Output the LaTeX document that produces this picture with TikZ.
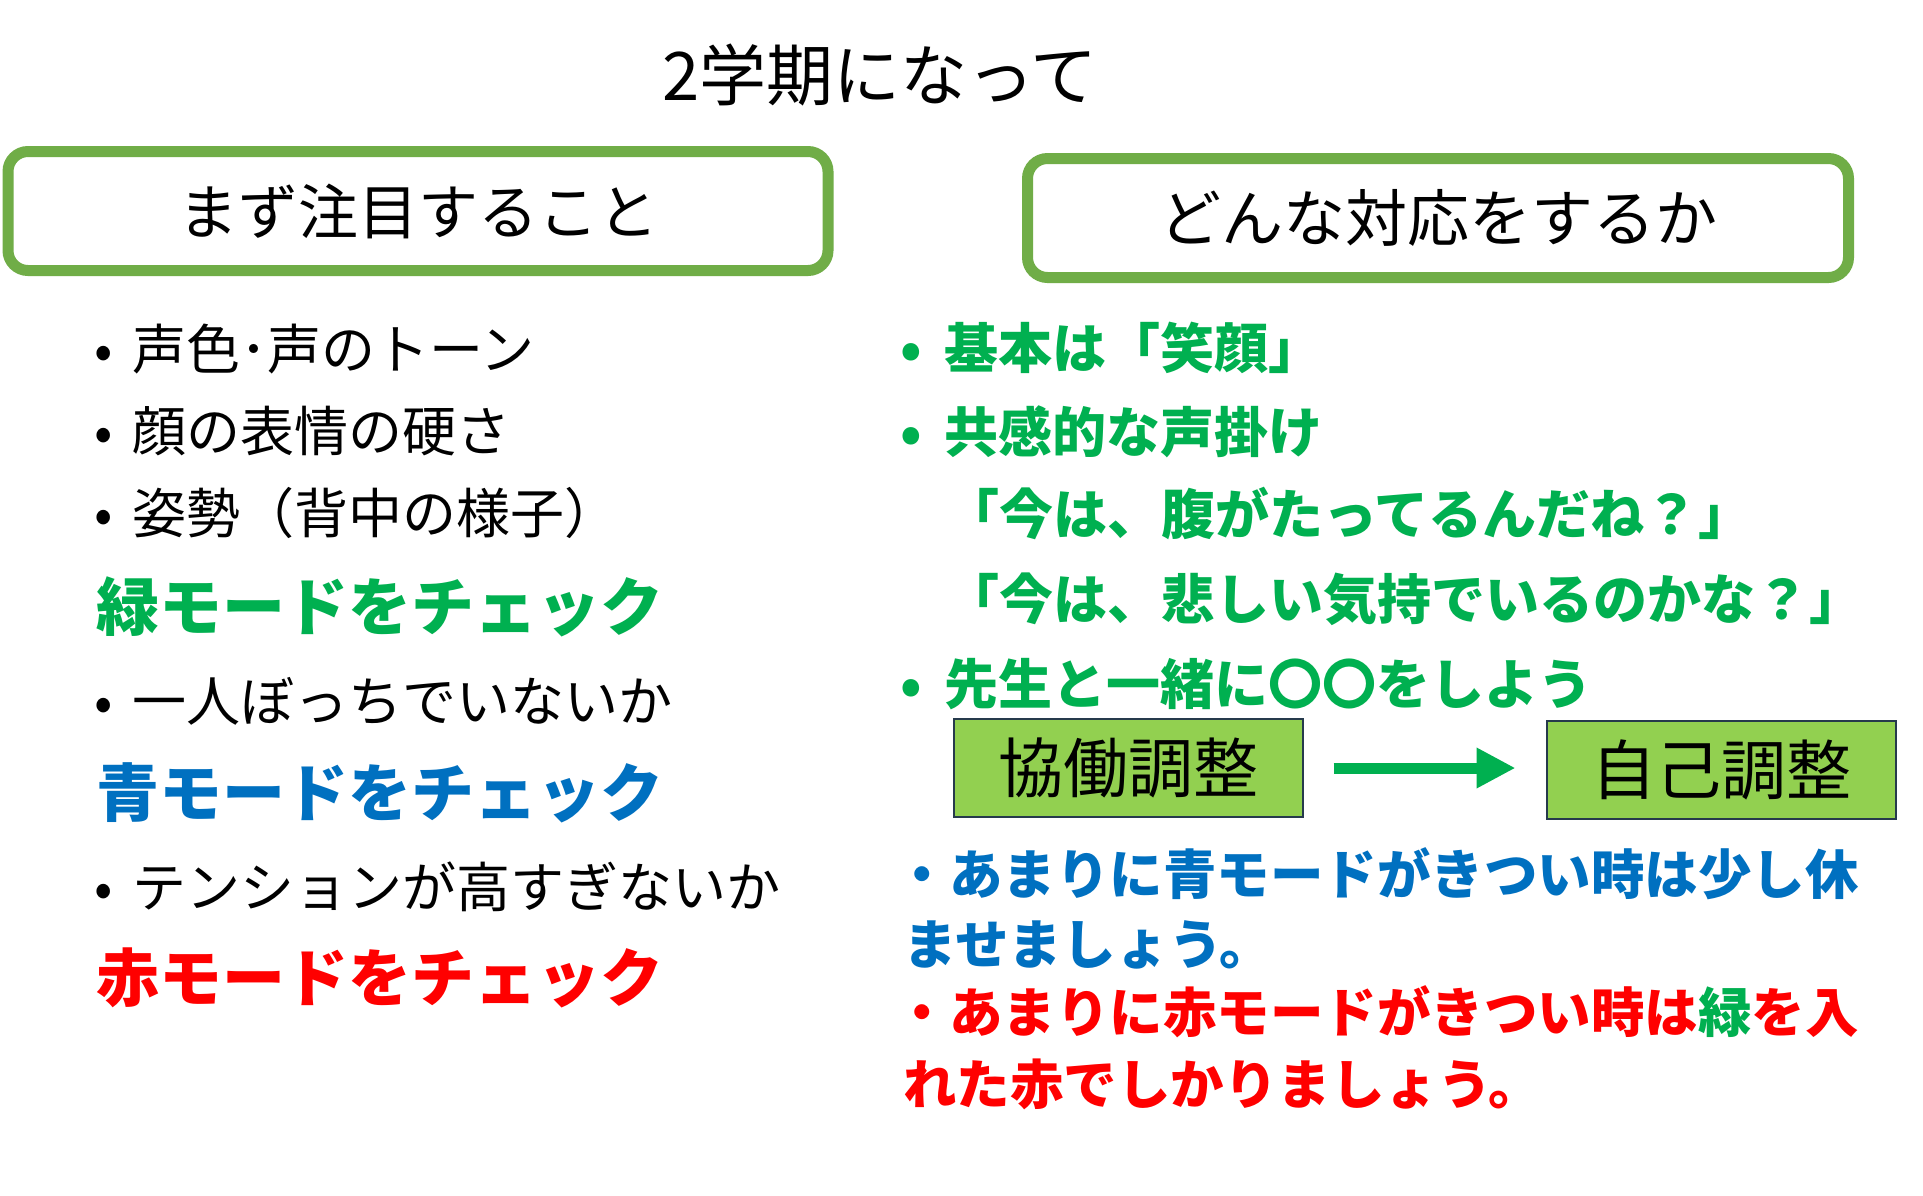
\documentclass[tikz,border=0pt]{standalone}
\usepackage{fontspec}
\setmainfont{Noto Sans CJK JP}
\usepackage{tikz}
\usetikzlibrary{arrows.meta, positioning}
\definecolor{framegreen}{HTML}{70AD47}
\definecolor{textgreen}{HTML}{00B050}
\definecolor{textblue}{HTML}{0070C0}
\definecolor{textred}{HTML}{FF0000}
\definecolor{boxfill}{HTML}{92D050}
\definecolor{boxline}{HTML}{263A4C}

\begin{document}
\begin{tikzpicture} [x = 1pt, y = -1pt,
  head/.style = {draw = framegreen, line width = 11pt, rounded corners = 20pt, minimum height = 119pt, inner sep = 0pt},
  item/.style = {anchor = base west, inner sep = 0pt, font = \fontsize{54}{60}\selectfont},
  check/.style = {anchor = base west, inner sep = 0pt, font = \fontsize{63}{70}\selectfont\bfseries},
  reply/.style = {anchor = base west, inner sep = 0pt, text = textgreen, font = \fontsize{54}{60}\selectfont\bfseries},
  note/.style = {anchor = base west, inner sep = 0pt, font = \fontsize{53.5}{60}\selectfont\bfseries},
  stage/.style = {draw = boxline, line width = 2pt, fill = boxfill, minimum width = 349pt, minimum height = 98pt, inner sep = 0pt, font = \fontsize{65}{70}\selectfont}]
\fill[white] (0,0) rectangle (1923,1195);
\useasboundingbox (0,0) rectangle (1923,1195);

\node[anchor = base, inner sep = 0pt, font = \fontsize{67}{72}\selectfont] (title) at (880,100) {2学期になって};

\node[head, minimum width = 820pt, font = \fontsize{60}{66}\selectfont] (focus) at (418,211) {まず注目すること};
\node[head, minimum width = 821pt, font = \fontsize{62}{68}\selectfont] (respond) at (1438,218) {どんな対応をするか};

\node[item] (f1) at (132,369) {\llap{•\hspace{19pt}}声色･声のトーン};
\node[item] (f2) at (132,451) {\llap{•\hspace{19pt}}顔の表情の硬さ};
\node[item] (f3) at (132,533) {\llap{•\hspace{19pt}}姿勢（背中の様子）};
\node[check, text = textgreen] (g) at (96,630) {緑モードをチェック};
\node[item] (f4) at (132,721) {\llap{•\hspace{19pt}}一人ぼっちでいないか};
\node[check, text = textblue] (b) at (96,816) {青モードをチェック};
\node[item] (f5) at (132,907) {\llap{•\hspace{19pt}}テンションが高すぎないか};
\node[check, text = textred] (r) at (96,1001) {赤モードをチェック};

\node[reply] (r1) at (944,368) {\llap{•\hspace{22pt}}基本は「笑顔」};
\node[reply] (r2) at (944,452) {\llap{•\hspace{22pt}}共感的な声掛け};
\node[reply] (r3) at (945,534) {「今は、腹がたってるんだね？」};
\node[reply] (r4) at (945,619) {「今は、悲しい気持でいるのかな？」};
\node[reply] (r5) at (944,704) {\llap{•\hspace{22pt}}先生と一緒に〇〇をしよう};

\node[stage] (co) at (1128,768) {協働調整};
\node[stage] (self) at (1721,770) {自己調整};
\draw[textgreen, line width = 11pt, -{Triangle[length = 39pt, width = 38pt]}, shorten <= 30pt, shorten >= 30pt] (co) -- (self.west |- co);

\node[note, text = textblue] (n1) at (949,894) {\llap{・}あまりに青モードがきつい時は少し休};
\node[note, text = textblue] (n2) at (903,964) {ませましょう。};
\node[note, text = textred] (n3) at (949,1032) {\llap{・}あまりに赤モードがきつい時は\textcolor{textgreen}{緑}を入};
\node[note, text = textred] (n4) at (903,1104) {れた赤でしかりましょう。};
\end{tikzpicture}
\end{document}
